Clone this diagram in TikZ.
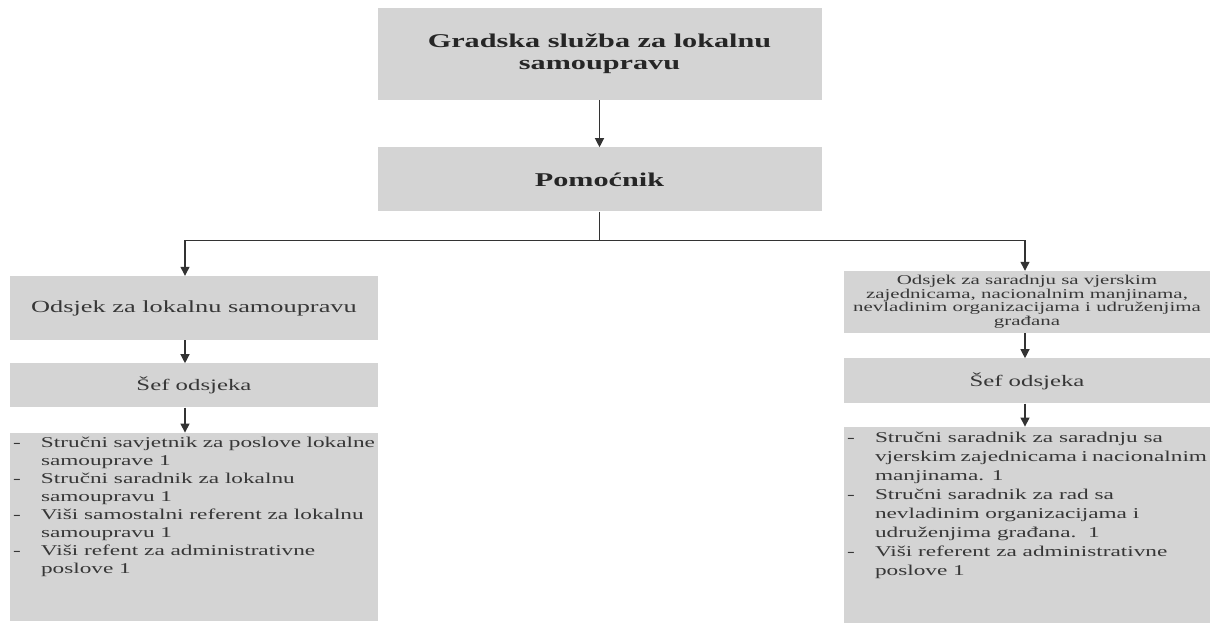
\documentclass[tikz,border=0pt]{standalone}
\usepackage{fontspec}
\newfontfamily\orgfont[FakeStretch=1.55]{Liberation Serif}
\usepackage{tikz}
\usetikzlibrary{arrows.meta}
\usetikzlibrary{positioning}
\usepackage{xcolor}

\definecolor{boxgray}{RGB}{212,212,212}
\definecolor{txtgray}{RGB}{55,55,55}

% one line of a job list, with a dash in front
\newcommand{\stavka}[1]{\par\hangindent=28pt\hangafter=1\noindent\makebox[28pt][l]{-}#1}

\tikzset{
	orgbox/.style={fill=boxgray, inner sep=2pt, align=center, text=txtgray},
	naslov/.style={orgbox, minimum width=444pt, text=black!85, font=\orgfont\bfseries\fontsize{19.5}{22}\selectfont},
	lijevo/.style={orgbox, minimum width=368pt},
	desno/.style={orgbox, minimum width=366pt},
	sef/.style={font=\orgfont\fontsize{16}{19}\selectfont},
	spisak/.style={align=left, font=\orgfont\fontsize{15}{18}\selectfont},
	veza/.style={draw=black!80, line width=1.2pt, -{Triangle[length=9pt,width=9pt]}},
	linija/.style={draw=black!80, line width=1.2pt}
}

\begin{document}
\begin{tikzpicture}[x=1pt, y=-1pt, node distance=24pt]
	\useasboundingbox (0,0) rectangle (1219,627);
	
	\node[naslov, minimum height=92pt](grad) at (599.5,54) {Gradska služba za lokalnu\\samoupravu};
	\node[naslov, minimum height=64pt, below=47pt of grad](pom){Pomoćnik};
	
	\path (pom.south) ++(0,29) coordinate (split);
	
	% lijeva grana
	\node[lijevo, minimum height=64pt, font=\orgfont\fontsize{17}{20}\selectfont](lods) at (194,308) {Odsjek za lokalnu samoupravu};
	\node[lijevo, sef, minimum height=44pt, below=23pt of lods](lsef){Šef odsjeka};
	\node[lijevo, spisak, minimum height=188pt, below=25pt of lsef](llist){\parbox[c][180pt][t]{362pt}{%
		\stavka{Stručni savjetnik za poslove lokalne\\samouprave 1}
		\stavka{Stručni saradnik za lokalnu\\samoupravu 1}
		\stavka{Viši samostalni referent za lokalnu\\samoupravu 1}
		\stavka{Viši refent za administrativne\\poslove 1}}};
	
	% desna grana
	\node[desno, minimum height=62pt, font=\orgfont\fontsize{13.5}{13.5}\selectfont](rods) at (1027,302) {Odsjek za saradnju sa vjerskim\\zajednicama, nacionalnim manjinama,\\nevladinim organizacijama i udruženjima\\građana};
	\node[desno, sef, minimum height=45pt, below=25pt of rods](rsef){Šef odsjeka};
	\node[desno, spisak, minimum height=196pt, below=23pt of rsef](rlist){\parbox[c][186pt][t]{360pt}{%
		\fontsize{15}{19}\selectfont
		\stavka{Stručni saradnik za saradnju sa\\vjerskim zajednicama i nacionalnim\\manjinama. 1}
		\stavka{Stručni saradnik za rad sa\\nevladinim organizacijama i\\udruženjima građana.\ \ 1}
		\stavka{Viši referent za administrativne\\poslove 1}}};
	
	\draw[veza] (grad) -- (pom);
	\draw[linija] (pom.south) -- (split);
	\draw[veza] (split) -| ([xshift=-9pt]lods.north);
	\draw[veza] (split) -| ([xshift=-2pt]rods.north);
	\draw[veza] ([xshift=-9pt]lods.south) -- ([xshift=-9pt]lsef.north);
	\draw[veza] ([xshift=-9pt]lsef.south) -- ([xshift=-9pt]llist.north);
	\draw[veza] ([xshift=-2pt]rods.south) -- ([xshift=-2pt]rsef.north);
	\draw[veza] ([xshift=-2pt]rsef.south) -- ([xshift=-2pt]rlist.north);
\end{tikzpicture}
\end{document}
